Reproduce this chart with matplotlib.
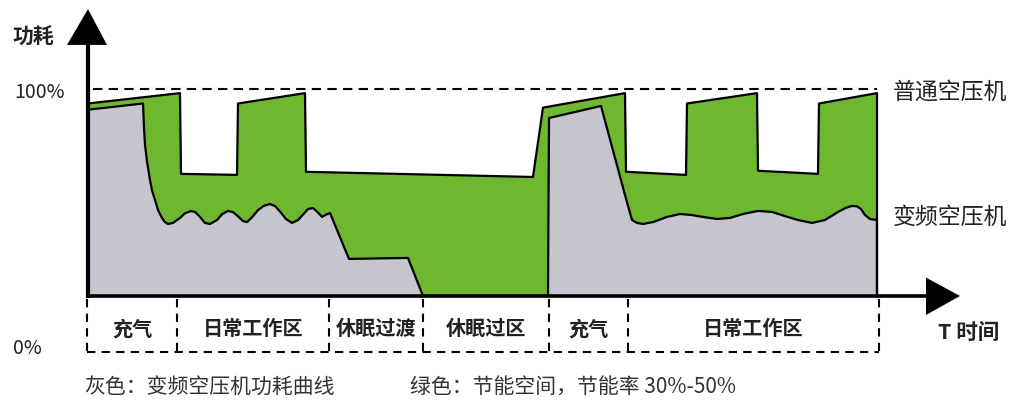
"""Air compressor power comparison: standard vs. variable-speed (VSD)."""
import matplotlib

matplotlib.use("Agg")
import matplotlib.pyplot as plt
from matplotlib.patches import Polygon

plt.rcParams["font.family"] = ["Noto Sans CJK SC", "DejaVu Sans"]

# --- data (time in arbitrary units, power in % of rated) ---
std_t = [0, 92, 93, 149, 150, 217, 218, 445, 455, 537, 538, 598, 599,
         669, 670, 730, 731, 789, 789]
std_p = [93, 98, 59, 58.5, 93, 98, 60, 57.5, 91, 98, 60, 58.5, 93,
         98, 60.5, 59, 93, 98, 0]

vsd_t = [0, 55, 56, 57, 59, 62, 64, 67, 70, 74, 77, 80, 85, 92, 97, 103,
         107, 112, 117, 122, 129, 134, 140, 145, 150, 155, 159, 164, 170,
         176, 182, 187, 192, 198, 204, 210, 215, 220, 225, 230, 234, 238,
         242, 261, 320, 335, 460, 461, 513, 537, 544, 549, 555, 565, 579,
         592, 604, 615, 629, 642, 655, 670, 684, 697, 710, 724, 737, 750,
         758, 764, 769, 773, 777, 782, 789, 789]
vsd_p = [90, 93, 81, 73, 65, 56, 51, 46.4, 41.5, 37.7, 35.7, 34.8, 35.3,
         37.7, 40, 41, 40.6, 38.2, 35.3, 34.8, 36.7, 39.5, 41.1, 40.5, 38.5,
         36.2, 35.7, 38, 41.5, 43.6, 44.4, 43.5, 40.8, 37.2, 35.3, 36.7,
         39.3, 42, 42.5, 40.3, 38.2, 39.3, 40.1, 17.9, 18.4, 0, 0, 86, 91.8,
         48.8, 36.7, 35.3, 34.8, 35.7, 38.2, 39.6, 39.1, 38.2, 37.2, 37.7,
         39.6, 41.1, 40.6, 38.6, 36.7, 35.3, 36.7, 40.6, 42.6, 43.5, 43.3,
         42, 39.1, 37.2, 36.7, 0]

phase_edges = [-1, 89, 241, 335, 461, 540, 791]
phase_labels = ["充气", "日常工作区", "休眠过渡", "休眠过区", "充气", "日常工作区"]

GREEN = "#6db82f"
GRAY = "#c4c5cd"
TEXT = "#222222"

fig = plt.figure(figsize=(10.2, 4.03), dpi=100)
ax = fig.add_axes([0, 0, 1, 1])
ax.set_xlim(-88, 932)
ax.set_ylim(-51.7, 143.0)
ax.axis("off")

# areas
ax.fill_between(std_t, std_p, 0, color=GREEN, lw=0)
ax.fill_between(vsd_t, vsd_p, 0, color=GRAY, lw=0)
ax.plot(std_t, std_p, color="black", lw=1.6, solid_joinstyle="round")
ax.plot(vsd_t, vsd_p, color="black", lw=1.6, solid_joinstyle="round")

# 100% reference line
ax.plot([5, 789], [100, 100], color="black", lw=1.5, dashes=(4.5, 3))

# axes with arrow heads
ax.plot([0, 0], [-1, 122], color="black", lw=3, solid_capstyle="butt")
ax.add_patch(Polygon([(-21, 121.3), (19, 121.3), (0, 138.6)],
                     closed=True, color="black", lw=0))
ax.plot([-2, 839], [0, 0], color="black", lw=2.6, solid_capstyle="butt")
ax.add_patch(Polygon([(838, 8.9), (838, -9.2), (872, 0)],
                     closed=True, color="black", lw=0))

# phase boxes
box_bottom = -27
for e in phase_edges:
    ax.plot([e, e], [-1.5, box_bottom], color="black", lw=1.5, dashes=(4, 3))
ax.plot([phase_edges[0], phase_edges[-1]], [box_bottom, box_bottom],
        color="black", lw=1.5, dashes=(4, 3))
for left, right, label in zip(phase_edges[:-1], phase_edges[1:], phase_labels):
    ax.text((left + right) / 2, -15.9, label, ha="center", va="center",
            fontsize=14.5, fontweight="bold", color=TEXT)

# labels
ax.text(-76, 125, "功耗", ha="left", va="center", fontsize=15,
        fontweight="bold", color=TEXT)
ax.text(-74, 98.5, "100%", ha="left", va="center", fontsize=14, color=TEXT)
ax.text(-75, -25.5, "0%", ha="left", va="center", fontsize=14, color=TEXT)
ax.text(805, 98.6, "普通空压机", ha="left", va="center", fontsize=16.5, color=TEXT)
ax.text(805, 38.2, "变频空压机", ha="left", va="center", fontsize=16.5, color=TEXT)
ax.text(850, -17.4, "T 时间", ha="left", va="center", fontsize=15.5,
        fontweight="bold", color=TEXT)

ax.text(-4, -44, "灰色：变频空压机功耗曲线", ha="left", va="center",
        fontsize=15, color="#333333")
ax.text(322, -44, "绿色：节能空间，节能率 30%-50%", ha="left", va="center",
        fontsize=15, color="#333333")

fig.savefig("out.png", dpi=100)
